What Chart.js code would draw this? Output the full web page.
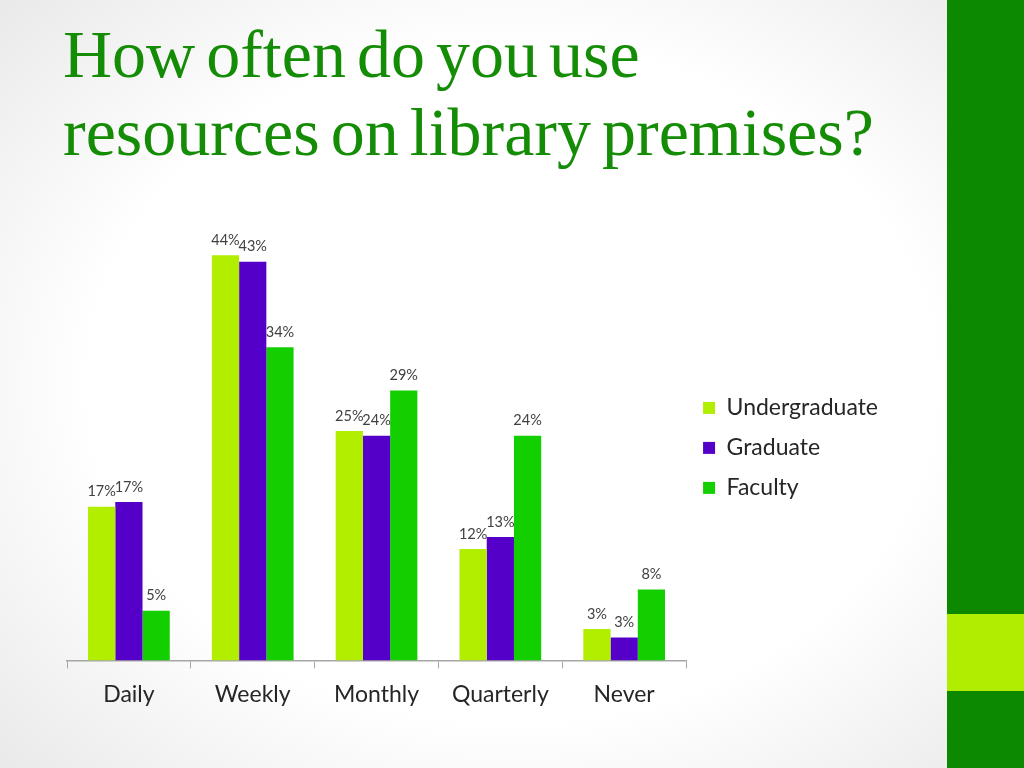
<!DOCTYPE html>
<html>
<head>
<meta charset="utf-8">
<script src="https://cdn.jsdelivr.net/npm/chart.js@4.4.1/dist/chart.umd.min.js"></script>
<style>
  html, body { margin: 0; padding: 0; }
  body {
    width: 1024px; height: 768px; overflow: hidden; position: relative;
    background: radial-gradient(ellipse 75% 80% at 50% 50%, #ffffff 55%, #e4e4e4 100%);
  }
  .title {
    position: absolute; left: 63px; top: 15px; margin: 0;
    font-family: "Liberation Serif", serif; font-weight: normal;
    font-size: 68px; line-height: 78px; color: #148c06;
    word-spacing: -6px; white-space: nowrap;
  }
  .sidebar { position: absolute; left: 947px; top: 0; width: 77px; height: 768px; background: #0d8901; }
  .sidebar .accent { position: absolute; left: 0; top: 614px; width: 77px; height: 77px; background: #b0ed00; }
  #wrap { position: absolute; left: 55px; top: 190px; width: 833px; height: 540px; }
</style>
</head>
<body>
<h1 class="title">How often do you use<br>resources on library premises?</h1>
<div class="sidebar"><div class="accent"></div></div>
<div id="wrap"><canvas id="usageChart"></canvas></div>
<script>
// values (labels show them rounded)
const categories = ['Daily', 'Weekly', 'Monthly', 'Quarterly', 'Never'];
const undergraduate = [16.7, 44.0, 24.9, 12.1, 3.4];
const graduate = [17.2, 43.3, 24.4, 13.4, 2.5];
const faculty = [5.4, 34.0, 29.3, 24.4, 7.7];

const FONT = 'Lato, "Open Sans", sans-serif';

// percent labels above every bar
const barLabels = {
  id: 'barLabels',
  afterDatasetsDraw(chart) {
    const ctx = chart.ctx;
    ctx.save();
    ctx.font = '14.5px ' + FONT;
    ctx.fillStyle = '#404040';
    ctx.textAlign = 'center';
    ctx.textBaseline = 'middle';
    chart.data.datasets.forEach((ds, i) => {
      chart.getDatasetMeta(i).data.forEach((bar, j) => {
        ctx.fillText(Math.round(ds.data[j]) + '%', bar.x, bar.y - 15);
      });
    });
    ctx.restore();
  }
};

new Chart(document.getElementById('usageChart'), {
  type: 'bar',
  data: {
    labels: categories,
    datasets: [
      { label: 'Undergraduate', data: undergraduate, backgroundColor: '#b2ee00' },
      { label: 'Graduate', data: graduate, backgroundColor: '#5400c9' },
      { label: 'Faculty', data: faculty, backgroundColor: '#14cf00' }
    ]
  },
  options: {
    responsive: true,
    maintainAspectRatio: false,
    animation: false,
    layout: { padding: { top: 10, left: 12, bottom: 10, right: 0 } },
    datasets: { bar: { categoryPercentage: 0.66, barPercentage: 1 } },
    plugins: {
      legend: {
        position: 'right',
        align: 'start',
        // empty title only pushes the entries down to where the slide has them
        title: { display: true, text: ' ', padding: { top: 165, bottom: 0 } },
        labels: {
          boxWidth: 12, boxHeight: 12, padding: 17,
          color: '#262626',
          font: { family: FONT, size: 23 }
        }
      },
      tooltip: { enabled: false }
    },
    scales: {
      x: {
        grid: { display: true, offset: true, drawOnChartArea: false, tickLength: 8, color: '#a6a6a6' },
        border: { display: true, color: '#a6a6a6', width: 1.5 },
        ticks: { color: '#262626', padding: 12, font: { family: FONT, size: 23 } }
      },
      y: { display: false, min: 0, max: 50 }
    }
  },
  plugins: [barLabels]
});
</script>
</body>
</html>
